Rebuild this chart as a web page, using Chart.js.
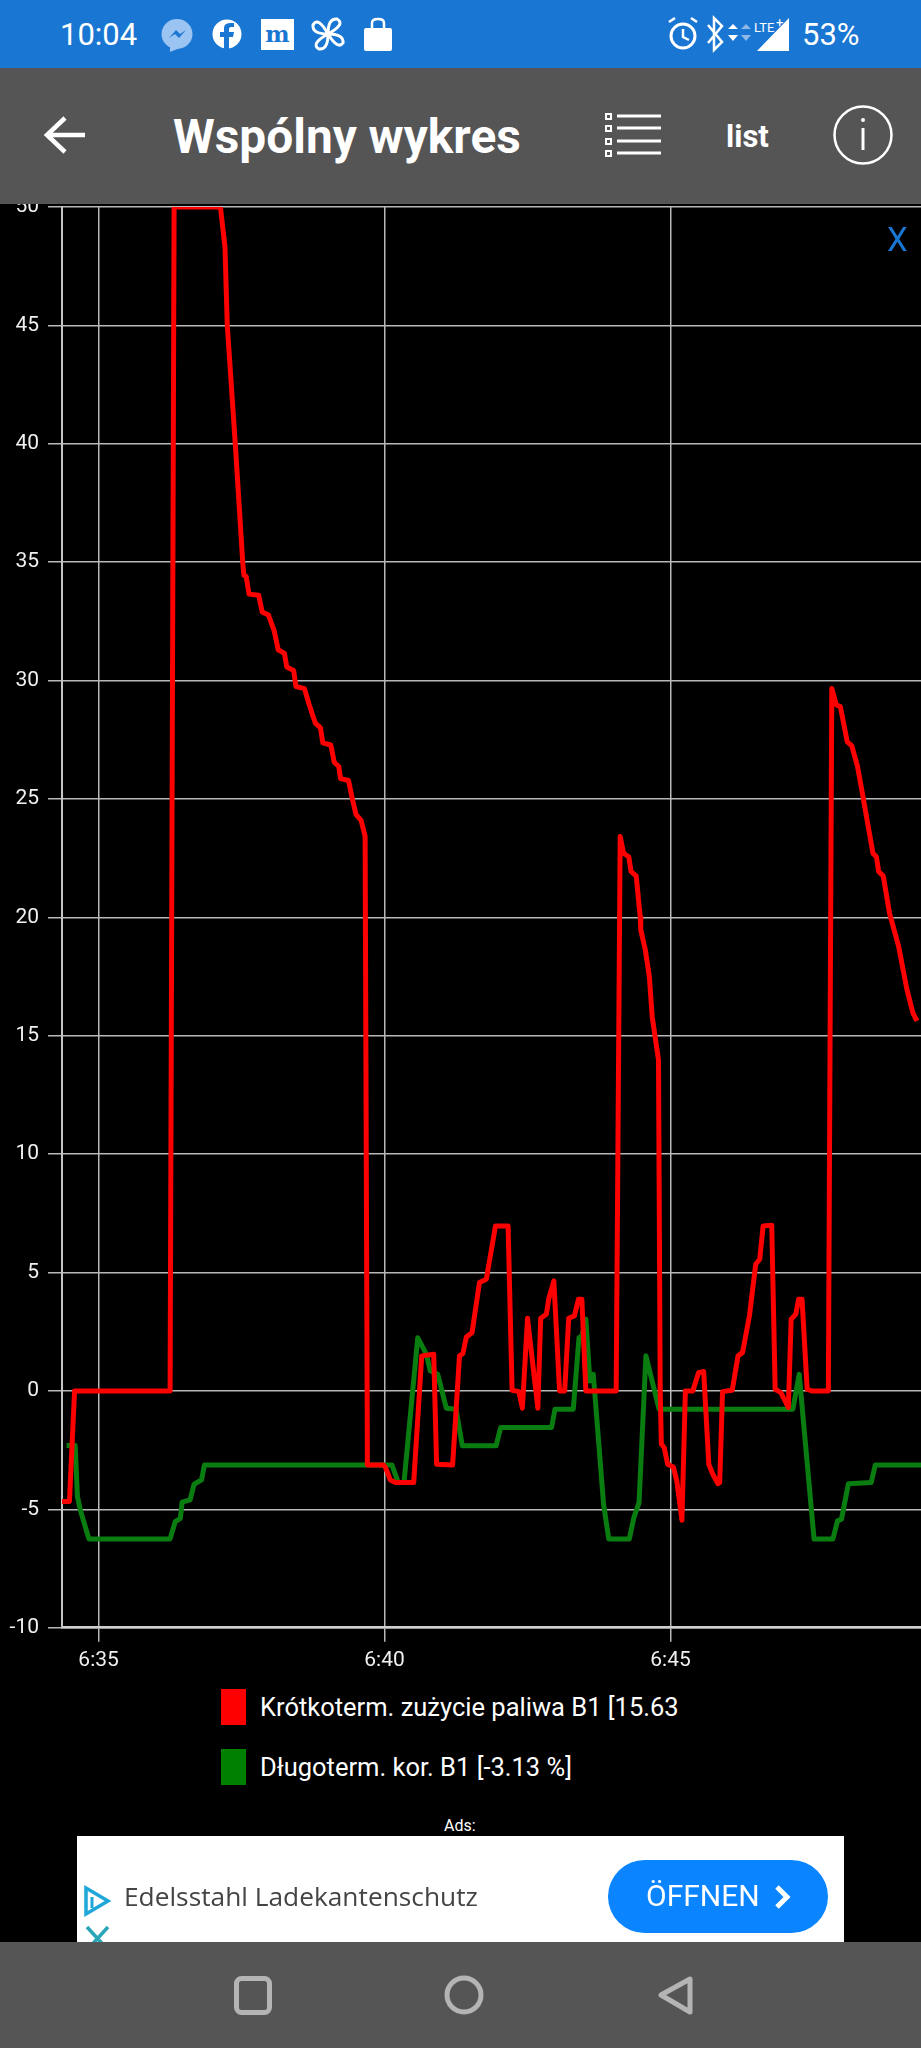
<!DOCTYPE html>
<html>
<head>
<meta charset="utf-8">
<title>Wspólny wykres</title>
<script src="https://cdn.jsdelivr.net/npm/chart.js@4/dist/chart.umd.min.js"></script>
<style>
html, body { margin: 0; padding: 0; background: #000; }
body { position: relative; width: 921px; height: 2048px; overflow: hidden; font-family: Roboto, sans-serif; color: #fff; }
.abs { position: absolute; white-space: nowrap; }
#status-bar { left: 0; top: 0; width: 921px; height: 68px; background: #1976d2; z-index: 3; }
#app-bar { left: 0; top: 68px; width: 921px; height: 136px; background: #555; z-index: 3; }
#nav-bar { left: 0; top: 1942px; width: 921px; height: 106px; background: #555; z-index: 3; }
#chart-canvas { position: absolute; left: 0; top: 164px; z-index: 1; }
#close-x { left: 887px; top: 220px; font-size: 33px; line-height: 40px; color: #1976d2; z-index: 2; }
#ad { left: 77px; top: 1836px; width: 767px; height: 106px; background: #fff; z-index: 2; }
#legend .box { position: absolute; left: 221px; width: 25px; height: 36px; }
#legend .label { position: absolute; left: 260px; font-size: 25.5px; line-height: 36px; white-space: nowrap; }
svg { position: absolute; overflow: visible; }
</style>
</head>
<body>
<div id="status-bar" class="abs">
  <div class="abs" style="left:60px;top:17px;font-size:31px;line-height:36px;">10:04</div>
  <svg style="left:0;top:0" width="921" height="68">
    <ellipse cx="177" cy="34" rx="15.5" ry="15" fill="#9cc4f2"/>
    <path d="M170 47 L170 52 L180 48Z" fill="#9cc4f2"/>
    <path d="M169 38 L176 30 L180 34 L186 30 L179 38 L175 34Z" fill="#1976d2"/>
    <circle cx="227" cy="34" r="14.5" fill="#fff"/>
    <path d="M224 49 V37 H220 V32 H224 V28 Q224 23 231 23 H234 V27 H231 Q229 27 229 29 V32 H234 L233 37 H229 V49Z" fill="#1976d2"/>
    <rect x="261" y="19" width="33" height="31" fill="#fff"/>
    <text x="277.5" y="42" font-family="DejaVu Serif" font-size="23" font-weight="bold" fill="#1976d2" text-anchor="middle">m</text>
    <g fill="none" stroke="#fff" stroke-width="3">
      <path d="M328 34 Q312 34 313 25 Q318 16 328 34"/>
      <path d="M328 34 Q328 18 337 19 Q346 24 328 34"/>
      <path d="M328 34 Q344 34 343 43 Q338 50 328 34"/>
      <path d="M328 34 Q328 50 319 49 Q310 44 328 34"/>
    </g>
    <rect x="364" y="28" width="28" height="23" rx="2" fill="#fff"/>
    <path d="M372 28 V23 Q372 19 378 19 Q384 19 384 23 V28" fill="none" stroke="#fff" stroke-width="2.5"/>
    <circle cx="683" cy="36" r="12" fill="none" stroke="#fff" stroke-width="3"/>
    <path d="M683 29 V37 L689 40 M669 22 L675 18 M697 22 L691 18" fill="none" stroke="#fff" stroke-width="2.5"/>
    <path d="M708 25 L722 42 L714 50 V18 L722 26 L708 43" fill="none" stroke="#fff" stroke-width="2.5"/>
    <path d="M728 29 L733 24 L738 29Z M728 35 L738 35 L733 41Z" fill="#fff"/>
    <path d="M741 29 L746 24 L751 29Z M741 35 L751 35 L746 41Z" fill="#8fb8e8"/>
    <path d="M757 51 L789 18 V51Z" fill="#fff"/>
    <text x="754" y="32" font-family="Roboto" font-size="13" fill="#fff">LTE</text>
    <text x="776" y="27" font-family="Roboto" font-size="13" fill="#fff">+</text>
  </svg>
  <div class="abs" style="left:802px;top:17px;font-size:31px;line-height:36px;">53%</div>
</div>
<div id="app-bar" class="abs">
  <svg style="left:0;top:-68px" width="921" height="204">
    <path d="M85 135 H50 M65 118 L47 135 L65 152" fill="none" stroke="#fff" stroke-width="4.5"/>
    <g fill="none" stroke="#fff">
      <path d="M617 116 H661 M617 128 H661 M617 141 H661 M617 153 H661" stroke-width="3"/>
      <rect x="606" y="114" width="5" height="5" stroke-width="2"/>
      <rect x="606" y="126" width="5" height="5" stroke-width="2"/>
      <rect x="606" y="139" width="5" height="5" stroke-width="2"/>
      <rect x="606" y="151" width="5" height="5" stroke-width="2"/>
      <circle cx="863" cy="135" r="28.5" stroke-width="2.5"/>
      <path d="M863 128 V150" stroke-width="3"/>
    </g>
    <circle cx="863" cy="120" r="2" fill="#fff"/>
  </svg>
  <div class="abs" style="left:173px;top:41px;font-size:47.8px;line-height:56px;font-weight:700;">Wspólny wykres</div>
  <div class="abs" style="left:726px;top:50px;font-size:31px;line-height:38px;font-weight:700;">list</div>
</div>
<canvas id="chart-canvas" width="921" height="1516"></canvas>
<div id="close-x" class="abs">X</div>
<div id="legend"></div>
<div class="abs" style="left:444px;top:1816px;font-size:16px;line-height:20px;z-index:2;">Ads:</div>
<div id="ad" class="abs">
  <svg style="left:-77px;top:-1836px" width="921" height="1942">
    <path d="M86 1888 L108 1901 L86 1914 Z" fill="none" stroke="#1ea7d8" stroke-width="3.5"/>
    <path d="M92 1897 V1908" stroke="#1ea7d8" stroke-width="3"/>
    <path d="M87 1927 L108 1950 M108 1927 L87 1950" stroke="#2aa6b8" stroke-width="3.5"/>
    <rect x="608" y="1860" width="220" height="73" rx="36.5" fill="#0a84ff"/>
    <path d="M777 1887 L787 1897 L777 1907" fill="none" stroke="#fff" stroke-width="5"/>
  </svg>
  <div class="abs" style="left:47px;top:43px;font-size:26.3px;line-height:34px;color:#444;font-family:'Open Sans',sans-serif;">Edelsstahl Ladekantenschutz</div>
  <div class="abs" style="left:569px;top:43px;font-size:30px;line-height:34px;color:#fff;">ÖFFNEN</div>
</div>
<div id="nav-bar" class="abs">
  <svg style="left:0;top:-1942px" width="921" height="2048">
    <rect x="236.500" y="1978.500" width="33" height="34" rx="5" fill="none" stroke="#b4b4b4" stroke-width="5"/>
    <circle cx="464" cy="1995" r="17" fill="none" stroke="#b4b4b4" stroke-width="5"/>
    <path d="M690 1979 V2012 L661 1995 Z" fill="none" stroke="#b4b4b4" stroke-width="5" stroke-linejoin="round"/>
  </svg>
</div>
<script>
// minutes after 6:00
const redTimes = [34.36, 34.49, 34.58, 36.25, 36.32, 37.13, 37.21, 37.25, 37.39, 37.52, 37.54, 37.58, 37.63, 37.80, 37.86, 37.97, 38.07, 38.14, 38.25, 38.29, 38.41, 38.45, 38.60, 38.68, 38.79, 38.88, 38.92, 39.06, 39.12, 39.20, 39.23, 39.37, 39.43, 39.50, 39.59, 39.66, 39.70, 39.98, 40.01, 40.10, 40.19, 40.51, 40.65, 40.86, 40.91, 41.19, 41.31, 41.37, 41.43, 41.53, 41.66, 41.78, 41.94, 42.16, 42.23, 42.35, 42.41, 42.50, 42.68, 42.73, 42.83, 42.87, 42.96, 43.06, 43.15, 43.22, 43.32, 43.39, 43.45, 43.52, 44.05, 44.12, 44.18, 44.27, 44.31, 44.40, 44.47, 44.48, 44.56, 44.63, 44.68, 44.79, 44.82, 44.84, 44.89, 44.95, 45.05, 45.11, 45.20, 45.26, 45.39, 45.49, 45.58, 45.67, 45.74, 45.83, 45.86, 45.91, 46.08, 46.18, 46.26, 46.38, 46.49, 46.56, 46.62, 46.77, 46.83, 46.93, 47.06, 47.11, 47.19, 47.24, 47.30, 47.39, 47.47, 47.76, 47.82, 47.90, 47.97, 48.09, 48.17, 48.27, 48.35, 48.54, 48.60, 48.64, 48.72, 48.83, 48.99, 49.13, 49.24, 49.31];
const redValues = [-4.67, -4.67, 0, 0, 50, 50, 48.3, 45, 40, 35, 34.45, 34.4, 33.65, 33.6, 32.9, 32.77, 32.1, 31.3, 31.15, 30.57, 30.43, 29.75, 29.66, 29, 28.2, 28, 27.37, 27.28, 26.55, 26.37, 25.86, 25.78, 25.08, 24.35, 24.1, 23.43, -3.13, -3.13, -3.2, -3.76, -3.87, -3.87, 1.48, 1.55, -3.1, -3.13, 1.48, 1.58, 2.28, 2.46, 4.58, 4.72, 6.97, 6.97, 0.03, -0.03, -0.73, 3.07, -0.73, 3.07, 3.24, 3.87, 4.65, 0, 0, 3.07, 3.17, 3.87, 3.87, 0, 0, 23.41, 22.7, 22.56, 21.93, 21.75, 20.03, 19.47, 18.62, 17.5, 15.8, 13.98, 0, -2.25, -2.39, -3.1, -3.21, -3.8, -5.46, 0, 0, 0.77, 0.82, -3.1, -3.52, -3.92, -3.87, -0.03, 0.03, 1.48, 1.62, 3.17, 5.35, 5.56, 6.97, 7, 0.07, -0.07, -0.7, 3.03, 3.24, 3.87, 3.87, 0.07, 0, 0, 29.67, 28.97, 28.9, 27.42, 27.24, 26.37, 25.31, 22.7, 22.56, 21.93, 21.75, 20.17, 18.76, 17, 15.95, 15.63];
const greenTimes = [34.44, 34.59, 34.63, 34.68, 34.83, 36.25, 36.34, 36.43, 36.46, 36.60, 36.67, 36.80, 36.85, 40.13, 40.24, 40.34, 40.58, 40.73, 40.80, 40.93, 41.08, 41.25, 41.36, 41.95, 42.03, 42.92, 42.98, 43.30, 43.40, 43.45, 43.52, 43.59, 43.65, 43.83, 43.92, 44.28, 44.36, 44.45, 44.57, 44.80, 47.14, 47.25, 47.51, 47.84, 47.92, 47.99, 48.11, 48.51, 48.58, 49.38];
const greenValues = [-2.31, -2.31, -4.46, -5.03, -6.25, -6.25, -5.52, -5.38, -4.7, -4.6, -3.94, -3.76, -3.13, -3.13, -3.87, -3.87, 2.25, 1.55, 0.85, 0.7, -0.73, -0.77, -2.32, -2.32, -1.55, -1.55, -0.77, -0.77, 2.25, 2.32, 3.03, 0.42, 0.7, -4.79, -6.25, -6.25, -5.35, -4.72, 1.48, -0.77, -0.77, 0.7, -6.25, -6.25, -5.49, -5.42, -3.92, -3.87, -3.13, -3.13];
const xTickValues = [35, 40, 45];
const seriesNames = ['Krótkoterm. zużycie paliwa B1 [15.63', 'Długoterm. kor. B1 [-3.13 %]'];
const seriesColors = ['#ff0000', '#0a7d10'];
const legendColors = ['#ff0000', '#008000'];

function toPoints(times, values) {
  return times.map((t, i) => ({ x: t, y: values[i] }));
}

const chart = new Chart(document.getElementById('chart-canvas').getContext('2d'), {
  type: 'line',
  data: {
    datasets: [
      { label: seriesNames[0], data: toPoints(redTimes, redValues), borderColor: seriesColors[0] },
      { label: seriesNames[1], data: toPoints(greenTimes, greenValues), borderColor: seriesColors[1] }
    ]
  },
  options: {
    responsive: false,
    animation: false,
    layout: { padding: { top: 43 } },
    elements: {
      point: { radius: 0 },
      line: { borderWidth: 5, tension: 0, borderJoinStyle: 'round' }
    },
    plugins: { legend: { display: false }, tooltip: { enabled: false } },
    scales: {
      x: {
        type: 'linear',
        min: 34.36,
        max: 49.38,
        // the app only labels whole five minute marks, not the range ends
        afterBuildTicks: scale => { scale.ticks = xTickValues.map(value => ({ value })); },
        afterFit: scale => { scale.height = 52.3; },
        border: { color: '#cfcfcf', width: 2.5 },
        grid: { color: '#b8b8b8', lineWidth: 1.5, tickLength: 14 },
        ticks: {
          maxRotation: 0,
          autoSkip: false,
          padding: 6,
          color: '#f0f0f0',
          font: { family: 'Roboto', size: 21 },
          callback: value => '6:' + value
        }
      },
      y: {
        min: -10,
        max: 50,
        afterFit: scale => { scale.width = 62; },
        border: { color: '#c4c4c4', width: 2 },
        grid: { color: '#b8b8b8', lineWidth: 1.5, tickLength: 14 },
        ticks: {
          stepSize: 5,
          padding: 9,
          color: '#f0f0f0',
          font: { family: 'Roboto', size: 21 }
        }
      }
    }
  }
});

// legend sits under the chart, one series per row
const legend = document.getElementById('legend');
chart.data.datasets.forEach((ds, i) => {
  const top = 1689 + i * 60;
  legend.insertAdjacentHTML('beforeend',
    `<div class="box" style="top:${top}px;background:${legendColors[i]}"></div>` +
    `<div class="label" style="top:${top}px">${ds.label}</div>`);
});
</script>
</body>
</html>
